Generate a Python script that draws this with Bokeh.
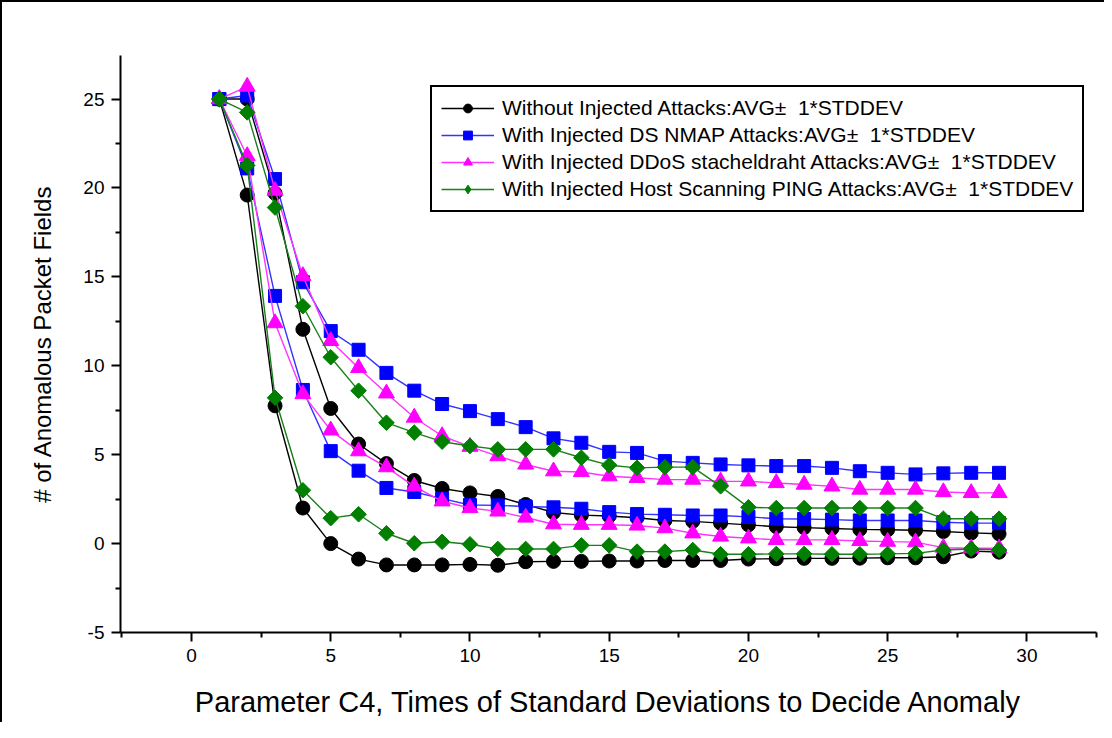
import numpy as np
from bokeh.plotting import figure
from bokeh.models import FixedTicker, Legend, LegendItem
from bokeh.embed import file_html
from bokeh.resources import INLINE

# C4 parameter values
c4 = list(range(1, 30))

# Without injected attacks: AVG + / - 1*STDDEV
without_hi = [25.0, 25.0, 19.7, 12.05, 7.6, 5.6, 4.5, 3.55, 3.1, 2.85, 2.65, 2.2, 1.75, 1.6, 1.55,
              1.45, 1.3, 1.25, 1.15, 1.05, 0.95, 0.9, 0.85, 0.8, 0.78, 0.75, 0.68, 0.6, 0.55]
without_lo = [25.0, 19.6, 7.75, 2.0, 0.0, -0.87, -1.2, -1.2, -1.2, -1.17, -1.22, -1.02, -1.0, -1.0, -0.98,
              -0.98, -0.95, -0.95, -0.95, -0.87, -0.85, -0.83, -0.83, -0.82, -0.8, -0.8, -0.74, -0.42, -0.48]

# With injected DS NMAP attacks
nmap_hi = [25.0, 25.2, 20.5, 14.7, 11.95, 10.9, 9.6, 8.6, 7.85, 7.45, 7.0, 6.55, 5.92, 5.67, 5.16,
           5.1, 4.64, 4.54, 4.45, 4.4, 4.36, 4.36, 4.26, 4.07, 3.98, 3.89, 3.95, 3.98, 3.98]
nmap_lo = [25.0, 21.1, 13.93, 8.64, 5.2, 4.1, 3.13, 2.9, 2.53, 2.17, 2.15, 2.09, 2.04, 1.96, 1.77,
           1.66, 1.62, 1.58, 1.58, 1.5, 1.4, 1.38, 1.35, 1.3, 1.3, 1.3, 1.2, 1.15, 1.15]

# With injected DDoS stacheldraht attacks
ddos_hi = [25.0, 25.7, 19.85, 15.05, 11.4, 9.88, 8.45, 7.09, 6.05, 5.45, 4.92, 4.45, 4.07, 4.03, 3.79,
           3.7, 3.6, 3.6, 3.5, 3.5, 3.41, 3.32, 3.22, 3.04, 3.04, 3.04, 2.9, 2.85, 2.85]
ddos_lo = [25.0, 21.8, 12.4, 8.41, 6.37, 5.2, 4.3, 3.22, 2.38, 2.0, 1.81, 1.47, 1.09, 1.06, 1.06,
           1.02, 0.87, 0.58, 0.4, 0.3, 0.21, 0.21, 0.21, 0.15, 0.11, 0.08, -0.23, -0.26, -0.26]

# With injected Host Scanning PING attacks
ping_hi = [25.0, 24.25, 18.9, 13.35, 10.48, 8.6, 6.8, 6.24, 5.73, 5.49, 5.3, 5.3, 5.3, 4.83, 4.41,
           4.26, 4.3, 4.3, 3.22, 2.04, 2.0, 2.0, 2.0, 2.0, 2.0, 2.0, 1.4, 1.4, 1.4]
ping_lo = [25.0, 21.27, 8.2, 3.0, 1.43, 1.65, 0.58, 0.02, 0.1, -0.04, -0.3, -0.3, -0.3, -0.1, -0.1,
           -0.45, -0.45, -0.36, -0.6, -0.6, -0.58, -0.58, -0.6, -0.6, -0.58, -0.55, -0.36, -0.3, -0.36]

labels = [
    "Without Injected Attacks:AVG\u00b1  1*STDDEV",
    "With Injected DS NMAP Attacks:AVG\u00b1  1*STDDEV",
    "With Injected DDoS stacheldraht Attacks:AVG\u00b1  1*STDDEV",
    "With Injected Host Scanning PING Attacks:AVG\u00b1  1*STDDEV",
]

x_ticks = [0, 5, 10, 15, 20, 25, 30]
y_ticks = [-5, 0, 5, 10, 15, 20, 25]

FONT = "Liberation Sans"

p = figure(frame_width=976, frame_height=577,
           x_range=(-2.55, 32.5), y_range=(-5, 27.45),
           min_border_left=118, min_border_right=8, min_border_top=53, min_border_bottom=90,
           output_backend="svg", toolbar_location=None)
p.styles = {"border-top": "2px solid black", "border-left": "2px solid black"}
p.background_fill_color = "white"
p.border_fill_color = "white"
p.outline_line_color = None
p.xgrid.visible = False
p.ygrid.visible = False

p.xaxis.ticker = FixedTicker(ticks=x_ticks, minor_ticks=[t + 2.5 for t in [-5] + x_ticks])
p.yaxis.ticker = FixedTicker(ticks=y_ticks, minor_ticks=[t + 2.5 for t in y_ticks])
p.yaxis.major_label_overrides = {-5: "-5"}

for ax in (p.xaxis[0], p.yaxis[0]):
    ax.axis_line_width = 2
    ax.axis_line_color = "black"
    ax.major_tick_line_width = 2
    ax.minor_tick_line_width = 2
    ax.major_tick_out = 9
    ax.major_tick_in = 0
    ax.minor_tick_out = 5
    ax.minor_tick_in = 0
    ax.major_label_text_font = FONT
    ax.major_label_text_font_size = "19px"
    ax.major_label_text_color = "black"
    ax.axis_label_text_font = FONT
    ax.axis_label_text_font_style = "normal"
    ax.axis_label_text_color = "black"
    ax.major_label_standoff = 7

p.xaxis.axis_label = "Parameter C4, Times of Standard Deviations to Decide Anomaly"
p.xaxis.axis_label_text_font_size = "29px"
p.xaxis.axis_label_standoff = 21
p.yaxis.axis_label = "# of Anomalous Packet Fields"
p.yaxis.axis_label_text_font_size = "24px"
p.yaxis.axis_label_standoff = 24

series = [
    (without_hi, without_lo, "black", "black", dict(marker="circle", size=14), dict(marker="circle", size=14)),
    (nmap_hi, nmap_lo, "#3333ff", "#0000ff", dict(marker="square", size=13), dict(marker="square", size=13)),
    (ddos_hi, ddos_lo, "#ff33ff", "#ff00ff", dict(marker="triangle", size=16), dict(marker="triangle", size=16)),
    (ping_hi, ping_lo, "#1a7f1a", "#007f00", dict(marker="square", size=11, angle=np.pi / 4),
     dict(marker="diamond", size=20)),
]

items = []
for (hi, lo, lcol, mcol, mk, legmk), lab in zip(series, labels):
    first = None
    for ys in (hi, lo):
        lr = p.line(c4, ys, line_color=lcol, line_width=1.4)
        p.scatter(c4, ys, fill_color=mcol, line_color=mcol, line_width=1, **mk)
        if first is None:
            first = lr
    # legend-only marker: a single NaN point, never drawn in the plot area
    leg_marker = p.scatter(x=[np.nan], y=[np.nan], fill_color=mcol, line_color=mcol, **legmk)
    items.append(LegendItem(label=lab, renderers=[first, leg_marker]))

legend = Legend(items=items, location=(310, 420))
legend.label_text_font = FONT
legend.label_text_font_size = "21px"
legend.label_text_color = "black"
legend.glyph_width = 53
legend.glyph_height = 22
legend.label_height = 22
legend.label_standoff = 8
legend.spacing = 3
legend.padding = 9
legend.margin = 0
legend.border_line_color = "black"
legend.border_line_alpha = 1.0
legend.border_line_width = 2
legend.background_fill_color = "white"
legend.background_fill_alpha = 1.0
p.add_layout(legend)

open("out.html", "w").write(file_html(p, INLINE))
